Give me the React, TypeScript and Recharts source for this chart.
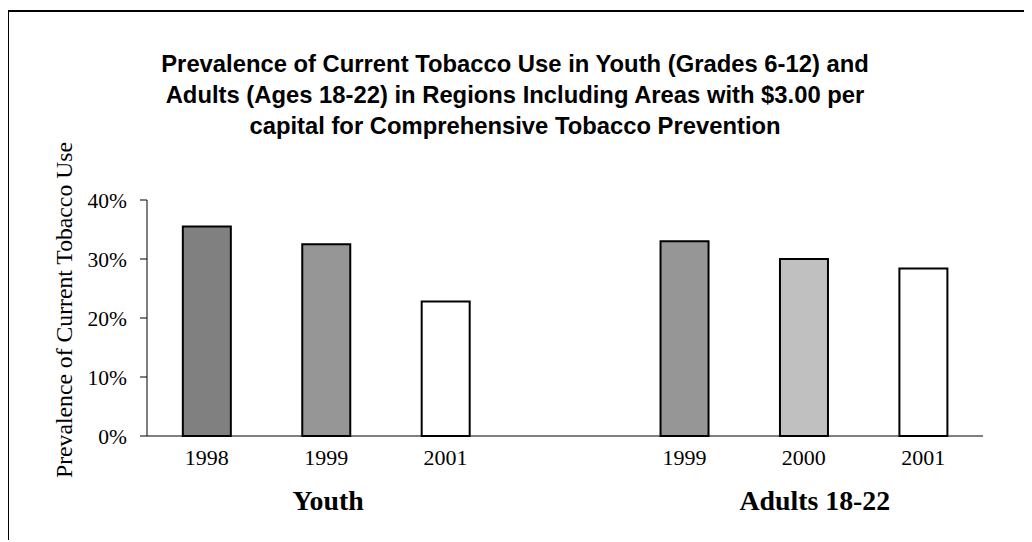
import React from 'react';
import { BarChart, Bar, Cell, XAxis, YAxis } from 'recharts';

const titleLines = [
  'Prevalence of Current Tobacco Use in Youth (Grades 6-12) and',
  'Adults (Ages 18-22) in Regions Including Areas with $3.00 per',
  'capital for Comprehensive Tobacco Prevention',
];

const youthYears = ['1998', '1999', '2001'];
const youthValues = [35.5, 32.5, 22.8];
const adultYears = ['1999', '2000', '2001'];
const adultValues = [33.0, 30.0, 28.4];

const groupNames = ['Youth', 'Adults 18-22'];
const yTicks = [0, 10, 20, 30, 40];

const barFills = ['#808080', '#969696', '#ffffff', '#ffffff', '#969696', '#c0c0c0', '#ffffff'];

// youth bars, an empty slot, then adult bars; group name sits under the middle bar
const data = [
  ...youthYears.map((year, i) => ({ year, value: youthValues[i], group: i === 1 ? groupNames[0] : '' })),
  { year: '', value: null, group: '' },
  ...adultYears.map((year, i) => ({ year, value: adultValues[i], group: i === 1 ? groupNames[1] : '' })),
];

const serif = '"Liberation Serif", "Times New Roman", serif';
const sans = '"Liberation Sans", Arial, sans-serif';

const YLabel = ({ viewBox }: any) => {
  const x = viewBox.x + 54.5;
  const y = viewBox.y + viewBox.height / 2 - 8;
  return (
    <text
      x={x}
      y={y}
      transform={`rotate(-90 ${x} ${y})`}
      textAnchor="middle"
      dominantBaseline="central"
      fontFamily={serif}
      fontSize={23.7}
      fill="#000"
    >
      Prevalence of Current Tobacco Use
    </text>
  );
};

// bold group caption; the adults caption sits a little right of its centre bar
const GroupTick = ({ x, y, payload }: any) => {
  if (!payload.value) return null;
  const shift = payload.value === groupNames[1] ? 11 : 2;
  return (
    <text
      x={x + shift}
      y={y + 44}
      textAnchor="middle"
      fontFamily={serif}
      fontSize={27.8}
      fontWeight="bold"
      fill="#000"
    >
      {payload.value}
    </text>
  );
};

export default function App() {
  return (
    <div
      style={{
        position: 'relative',
        left: -1,
        top: 2,
        width: 1023,
        height: 530,
        borderTop: '2px solid #000',
        borderLeft: '2px solid #000',
        overflow: 'hidden',
        background: '#fff',
      }}
    >
      <div
        style={{
          position: 'absolute',
          top: 35.7,
          left: 0,
          width: 1012,
          textAlign: 'center',
          fontFamily: sans,
          fontWeight: 'bold',
          fontSize: 23.8,
          lineHeight: '31px',
          color: '#000',
        }}
      >
        {titleLines.map(line => (
          <div key={line}>{line}</div>
        ))}
      </div>
      <BarChart
        width={1023}
        height={530}
        data={data}
        margin={{ top: 188, right: 49, bottom: 26, left: 0 }}
        barCategoryGap="30%"
      >
        <XAxis
          dataKey="year"
          height={30}
          tickLine={false}
          tickSize={0}
          tickMargin={13}
          axisLine={{ stroke: '#000', strokeWidth: 1 }}
          tick={{ fontFamily: serif, fontSize: 22, fill: '#000' }}
          interval={0}
        />
        <XAxis
          xAxisId="group"
          dataKey="group"
          height={50}
          axisLine={false}
          tickLine={false}
          tickSize={0}
          tickMargin={0}
          tick={<GroupTick />}
          interval={0}
        />
        <YAxis
          width={138}
          domain={[0, 40]}
          ticks={yTicks}
          tickFormatter={(v: number) => `${v}%`}
          tickSize={7}
          tickMargin={13}
          axisLine={{ stroke: '#000', strokeWidth: 1 }}
          tickLine={{ stroke: '#000', strokeWidth: 1 }}
          tick={{ fontFamily: serif, fontSize: 21.5, fill: '#000' }}
          label={<YLabel />}
        />
        <Bar dataKey="value" stroke="#000" strokeWidth={2} isAnimationActive={false}>
          {data.map((d, i) => (
            <Cell key={i} fill={barFills[i]} />
          ))}
        </Bar>
      </BarChart>
    </div>
  );
}
